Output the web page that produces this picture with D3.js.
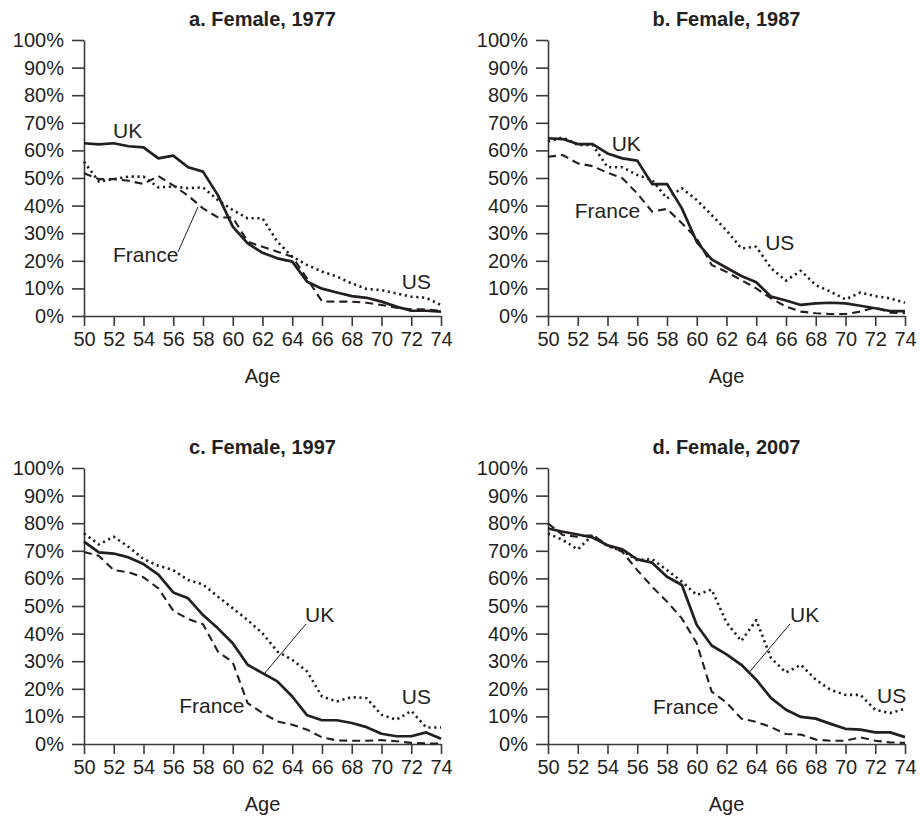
<!DOCTYPE html>
<html>
<head>
<meta charset="utf-8">
<script src="https://cdn.jsdelivr.net/npm/d3@7"></script>
<style>
  body { margin: 0; background: #fff; }
  svg { display: block; font-family: "Liberation Sans", Arial, Helvetica, sans-serif; }
  .axis text { font-size: 20px; fill: #231f20; }
  .axis path, .axis line { stroke: #3a3a3a; stroke-width: 1.6; }
</style>
</head>
<body>
<svg id="chart" width="920" height="818"></svg>
<script>
const ages = [50, 51, 52, 53, 54, 55, 56, 57, 58, 59, 60, 61, 62, 63, 64, 65, 66, 67, 68, 69, 70, 71, 72, 73, 74]
const xTicks = [50, 52, 54, 56, 58, 60, 62, 64, 66, 68, 70, 72, 74]
const yTicks = [0, 10, 20, 30, 40, 50, 60, 70, 80, 90, 100]
const titles = ['a. Female, 1977', 'b. Female, 1987', 'c. Female, 1997', 'd. Female, 2007']

// share of women working, by age (%)
const uk1977 = [62.6, 62.2, 62.6, 61.5, 61.1, 57.1, 58.1, 53.9, 52.3, 43.8, 32.4, 26.3, 22.9, 20.9, 19.7, 12.4, 9.9, 8.5, 7.2, 6.6, 5.2, 3.4, 1.9, 1.9, 1.6]
const france1977 = [51.7, 49.6, 49.6, 49.0, 47.8, 50.7, 47.3, 43.6, 39.0, 35.7, 35.7, 26.9, 25.1, 23.3, 21.5, 13.5, 5.3, 5.2, 5.2, 4.8, 4.0, 3.0, 2.4, 2.4, 1.8]
const us1977 = [55.9, 48.7, 49.6, 50.5, 50.5, 46.6, 46.9, 46.3, 46.6, 42.0, 38.4, 35.4, 35.4, 26.9, 21.5, 18.5, 16.1, 14.3, 11.8, 9.8, 9.4, 8.2, 7.0, 6.6, 4.0]

const uk1987 = [64.4, 64.1, 62.3, 62.3, 58.9, 57.1, 56.3, 47.8, 47.8, 39.0, 26.9, 20.5, 17.5, 14.5, 12.2, 7.0, 5.6, 4.0, 4.6, 4.8, 4.6, 3.7, 2.8, 1.8, 1.8]
const france1987 = [57.7, 58.3, 55.3, 54.3, 51.9, 49.9, 44.4, 37.8, 38.8, 33.6, 28.1, 18.5, 16.0, 13.0, 10.0, 6.4, 3.4, 1.6, 1.0, 0.7, 0.7, 1.6, 3.1, 1.2, 1.0]
const us1987 = [63.2, 64.7, 62.0, 62.0, 53.9, 53.9, 51.1, 49.3, 42.6, 46.3, 42.0, 36.6, 31.0, 24.5, 25.1, 17.3, 12.8, 16.4, 11.2, 8.8, 6.0, 8.5, 7.2, 6.4, 4.8]

const uk1997 = [73.3, 69.4, 69.0, 67.6, 65.2, 61.4, 54.9, 52.8, 46.7, 41.9, 36.5, 28.7, 25.7, 22.7, 17.2, 10.4, 8.6, 8.6, 7.6, 6.1, 3.7, 2.8, 2.8, 4.2, 1.9]
const france1997 = [69.6, 68.2, 63.0, 62.2, 60.4, 56.4, 48.3, 45.3, 43.4, 33.5, 29.6, 14.8, 11.2, 8.2, 7.0, 5.2, 2.4, 1.3, 1.2, 1.2, 1.4, 1.0, 0.4, 0.2, 0.2]
const us1997 = [76.3, 72.3, 75.1, 71.4, 67.0, 64.6, 63.0, 59.4, 57.8, 53.4, 49.2, 44.9, 40.1, 33.5, 30.5, 26.3, 17.2, 15.4, 17.0, 16.6, 10.6, 8.8, 12.0, 6.0, 6.0]

const uk2007 = [78.1, 76.9, 75.9, 74.8, 72.0, 70.5, 66.9, 65.7, 60.6, 57.6, 43.1, 35.7, 32.5, 28.7, 23.3, 16.6, 12.4, 9.8, 9.2, 7.3, 5.5, 5.2, 4.2, 4.2, 2.5]
const france2007 = [79.9, 75.7, 75.1, 75.7, 72.0, 69.6, 63.0, 57.0, 51.6, 45.5, 36.5, 19.0, 15.0, 9.2, 8.0, 6.1, 3.6, 3.4, 1.6, 1.2, 1.2, 2.4, 1.2, 0.6, 0.4]
const us2007 = [76.3, 73.9, 70.5, 75.7, 71.7, 69.9, 66.6, 67.0, 63.0, 58.8, 54.0, 56.0, 44.0, 37.3, 44.9, 31.1, 25.9, 28.7, 23.3, 19.6, 17.8, 17.8, 12.4, 11.2, 12.8]

const INK = '#231f20'
const PLOT_W = 357
const PLOT_H = 276

const panels = [
    {
        left: 84, top: 40, title: titles[0],
        series: {uk: uk1977, france: france1977, us: us1977},
        notes: [
            {text: 'UK', age: 51.95, value: 64.5},
            {text: 'France', age: 51.95, value: 19.6, lineFrom: [56.32, 23.2], lineTo: [57.66, 39.5]},
            {text: 'US', age: 71.36, value: 9.8}
        ]
    },
    {
        left: 548, top: 40, title: titles[1],
        series: {uk: uk1987, france: france1987, us: us1987},
        notes: [
            {text: 'UK', age: 54.28, value: 59.8},
            {text: 'France', age: 51.8, value: 35.5},
            {text: 'US', age: 64.6, value: 23.9}
        ]
    },
    {
        left: 84, top: 468, title: titles[2],
        series: {uk: uk1997, france: france1997, us: us1997},
        notes: [
            {text: 'France', age: 56.4, value: 11.2},
            {text: 'UK', age: 64.86, value: 44.2, lineFrom: [64.92, 43.5], lineTo: [62.05, 25.0]},
            {text: 'US', age: 71.36, value: 14.5}
        ]
    },
    {
        left: 548, top: 468, title: titles[3],
        series: {uk: uk2007, france: france2007, us: us2007},
        notes: [
            {text: 'France', age: 57.06, value: 10.9},
            {text: 'UK', age: 66.27, value: 44.2, lineFrom: [66.27, 43.5], lineTo: [63.47, 25.6]},
            {text: 'US', age: 72.12, value: 14.9}
        ]
    }
]

const lineStyles = {
    uk: {width: 2.7, dash: null},
    france: {width: 2.1, dash: '8,5'},
    us: {width: 2.6, dash: '2.2,3.6'}
}

const svg = d3.select('#chart')

const x = d3.scaleLinear().domain([50, 74]).range([0, PLOT_W])
const y = d3.scaleLinear().domain([0, 100]).range([PLOT_H, 0])

panels.forEach((panel) => {
    const g = svg.append('g')
        .attr('transform', `translate(${panel.left},${panel.top})`)

    g.append('text')
        .attr('x', PLOT_W / 2)
        .attr('y', -14)
        .attr('text-anchor', 'middle')
        .attr('font-size', 20)
        .attr('font-weight', 'bold')
        .attr('fill', INK)
        .text(panel.title)

    g.append('g')
        .attr('class', 'axis')
        .call(d3.axisLeft(y)
            .tickValues(yTicks)
            .tickSize(12)
            .tickSizeOuter(0)
            .tickPadding(8)
            .tickFormat(d => d + '%'))

    g.append('g')
        .attr('class', 'axis')
        .attr('transform', `translate(0,${PLOT_H})`)
        .call(d3.axisBottom(x)
            .tickValues(xTicks)
            .tickSize(10)
            .tickSizeOuter(0)
            .tickPadding(6)
            .tickFormat(d3.format('d')))

    g.append('text')
        .attr('x', PLOT_W / 2)
        .attr('y', PLOT_H + 67)
        .attr('text-anchor', 'middle')
        .attr('font-size', 20)
        .attr('fill', INK)
        .text('Age')

    const line = d3.line()
        .x((d, i) => x(ages[i]))
        .y(d => y(d))

    // draw US first so the solid UK line sits on top
    ;['us', 'france', 'uk'].forEach((key) => {
        const style = lineStyles[key]
        g.append('path')
            .datum(panel.series[key])
            .attr('d', line)
            .attr('fill', 'none')
            .attr('stroke', INK)
            .attr('stroke-width', style.width)
            .attr('stroke-linejoin', 'round')
            .attr('stroke-dasharray', style.dash)
    })

    panel.notes.forEach((note) => {
        if (note.lineFrom) {
            g.append('line')
                .attr('x1', x(note.lineFrom[0]))
                .attr('y1', y(note.lineFrom[1]))
                .attr('x2', x(note.lineTo[0]))
                .attr('y2', y(note.lineTo[1]))
                .attr('stroke', INK)
                .attr('stroke-width', 1)
        }
        g.append('text')
            .attr('x', x(note.age))
            .attr('y', y(note.value))
            .attr('font-size', 21)
            .attr('fill', INK)
            .text(note.text)
    })
})
</script>
</body>
</html>
